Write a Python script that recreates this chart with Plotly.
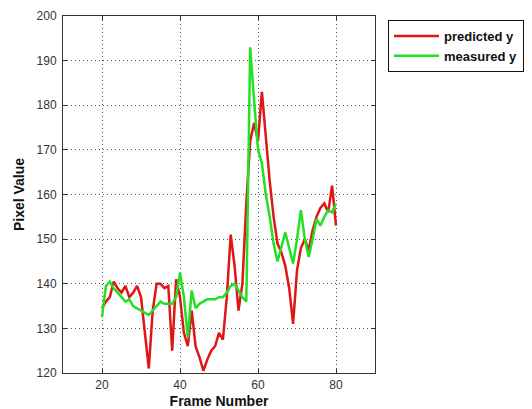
import plotly.graph_objects as go

frames = list(range(20, 81))

predicted_y = [134.5, 136, 137, 140.5, 139, 138, 139.5, 137, 138, 139.5,
               137, 129, 121, 134, 140, 140, 139, 139.5, 125, 141,
               137, 129, 126, 134, 126, 123.5, 120.5, 123, 125, 126,
               129, 127.5, 137, 151, 144, 134, 140, 158, 172, 176,
               172, 183, 172, 163, 155, 149, 147, 144, 139, 131,
               143, 148, 150, 147.5, 152, 155, 157, 158, 156, 162,
               153]

measured_y = [132.5, 139.5, 140.5, 139, 138, 137, 136, 136.5, 135, 134.5,
              134, 133.5, 133, 134, 135, 136, 135.5, 135.5, 135.5, 137,
              142.5, 137, 128, 138.5, 134.5, 135.5, 136, 136.5, 136.5, 136.5,
              137, 137, 138, 139.5, 140, 138.5, 137, 136, 193, 181,
              170, 167, 160, 155, 149, 145, 148.5, 151.5, 148, 144.5,
              150, 156.5, 150, 146, 150, 154.5, 153, 155, 156.5, 156,
              158]

fig = go.Figure()
fig.add_trace(go.Scatter(x=frames, y=predicted_y, mode="lines", name="predicted y",
                         line=dict(color="#e01515", width=2.5)))
fig.add_trace(go.Scatter(x=frames, y=measured_y, mode="lines", name="measured y",
                         line=dict(color="#22e022", width=2.5)))

axis_common = dict(
    showline=True, linecolor="#333333", linewidth=1, mirror="ticks",
    ticks="inside", ticklen=4, tickcolor="#333333",
    showgrid=True, gridcolor="#555555", griddash="1px,3px", gridwidth=1,
    zeroline=False, automargin=False,
    tickfont=dict(family="Liberation Sans, Arial", size=12, color="#333333"),
)

fig.update_xaxes(range=[10, 90], tick0=0, dtick=20, ticklabelstandoff=1,
                 title=dict(text="<b>Frame Number</b>", standoff=4,
                            font=dict(family="Liberation Sans, Arial", size=14, color="#111111")),
                 **axis_common)
fig.update_yaxes(range=[120, 200], tick0=120, dtick=10, ticklabelstandoff=3,
                 title=dict(text="<b>Pixel Value</b>", standoff=8,
                            font=dict(family="Liberation Sans, Arial", size=14, color="#111111")),
                 **axis_common)

fig.update_layout(
    width=532, height=409,
    margin=dict(l=63, r=157, t=16, b=36, autoexpand=False),
    paper_bgcolor="white", plot_bgcolor="white",
    showlegend=True,
    legend=dict(xref="container", yref="container", x=388 / 532, y=1 - 20 / 409,
                xanchor="left", yanchor="top",
                bordercolor="#111111", borderwidth=1, bgcolor="white",
                font=dict(family="Liberation Sans, Arial", size=13, color="#111111", weight="bold"),
                tracegroupgap=0, itemwidth=45),
)

fig.write_html("out.html")
